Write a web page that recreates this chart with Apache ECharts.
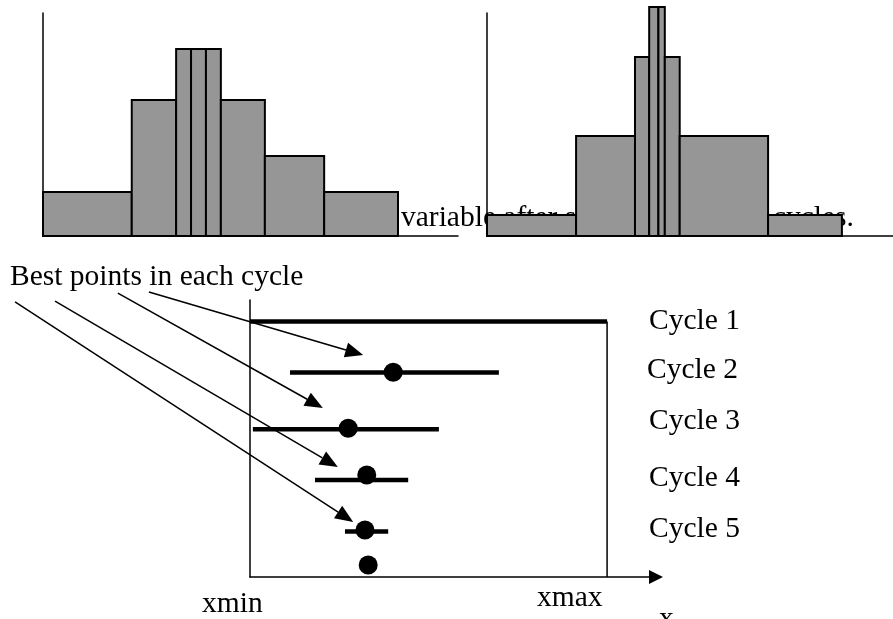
<!DOCTYPE html>
<html>
<head>
<meta charset="utf-8">
<script src="https://cdn.jsdelivr.net/npm/echarts@6/dist/echarts.min.js"></script>
<style>
html, body { margin: 0; padding: 0; background: #fff; }
#chart { width: 893px; height: 619px; }
</style>
</head>
<body>
<div id="chart"></div>
<script>
// histogram before / after the cycles: bin edges on the variable scale, bar heights
const edgesBefore = [0, 2.5, 3.75, 4.17, 4.59, 5.01, 6.25, 7.92, 10];
const countsBefore = [4.4, 13.6, 18.7, 18.7, 18.7, 13.6, 8.0, 4.4];
const edgesAfter = [0, 2.51, 4.17, 4.57, 4.83, 5.01, 5.43, 7.92, 10];
const countsAfter = [2.1, 10.0, 17.9, 22.9, 22.9, 17.9, 10.0, 2.1];

// search range of every cycle (xmin = 0, xmax = 10), level = row on the lower plot
const cycleNames = ['Cycle 1', 'Cycle 2', 'Cycle 3', 'Cycle 4', 'Cycle 5'];
const cycleLevel = [0.78, 2.62, 4.67, 6.5, 8.36];
const rangeLow = [0, 1.12, 0.08, 1.82, 2.66];
const rangeHigh = [10, 6.97, 5.29, 4.43, 3.87];
const bestX = [4.01, 2.75, 3.27, 3.22, 3.31];
const bestLevel = [2.61, 4.63, 6.32, 8.3, 9.57];
const xLimits = [0, 10];
// annotation arrows "Best points in each cycle" -> point
const arrowFrom = [[-2.83, -0.29], [-3.7, -0.25], [-5.46, 0.04], [-6.58, 0.07]];
const arrowTo = [[3.17, 1.99], [2.04, 3.9], [2.46, 6.03], [2.89, 8.01]];

const FONT = '29.5px "Liberation Serif", "Times New Roman", serif';

function toBins(edges, counts) {
  return counts.map((c, i) => [edges[i], edges[i + 1], c]);
}

function renderBin(params, api) {
  const p0 = api.coord([api.value(0), api.value(2)]);
  const p1 = api.coord([api.value(1), 0]);
  return {
    type: 'rect',
    shape: { x: p0[0], y: p0[1], width: p1[0] - p0[0], height: p1[1] - p0[1] },
    style: { fill: '#969696', stroke: '#000', lineWidth: 2 },
  };
}

function renderRange(params, api) {
  const a = api.coord([api.value(0), api.value(2)]);
  const b = api.coord([api.value(1), api.value(2)]);
  return {
    type: 'line',
    shape: { x1: a[0], y1: a[1], x2: b[0], y2: b[1] },
    style: { stroke: '#000', lineWidth: 4.5, lineCap: 'butt' },
  };
}

function renderArrow(params, api) {
  const a = api.coord([api.value(0), api.value(1)]);
  const b = api.coord([api.value(2), api.value(3)]);
  const dx = b[0] - a[0];
  const dy = b[1] - a[1];
  const len = Math.sqrt(dx * dx + dy * dy);
  const ux = dx / len;
  const uy = dy / len;
  const headL = 18;
  const headW = 7.5;
  const bx = b[0] - ux * headL;
  const by = b[1] - uy * headL;
  return {
    type: 'group',
    children: [
      {
        type: 'line',
        shape: { x1: a[0], y1: a[1], x2: bx, y2: by },
        style: { stroke: '#000', lineWidth: 1.5 },
      },
      {
        type: 'polygon',
        shape: { points: [[b[0], b[1]], [bx - uy * headW, by + ux * headW], [bx + uy * headW, by - ux * headW]] },
        style: { fill: '#000' },
      },
    ],
  };
}

const axisLine = { show: true, onZero: false, lineStyle: { color: '#000', width: 1.5 } };
const hidden = { show: false };

function text(str, x, y) {
  return {
    type: 'text',
    style: {
      text: str, x: x, y: y, font: FONT, fill: '#000',
      align: 'left', textAlign: 'left', verticalAlign: 'middle', textVerticalAlign: 'middle',
    },
  };
}

const myChart = echarts.init(document.getElementById('chart'), null, { renderer: 'canvas' });

const option = {
  animation: false,
  backgroundColor: '#fff',
  grid: [
    { left: 43, top: 13, width: 415, height: 223 },
    { left: 487, top: 13, width: 406, height: 223 },
    { left: 250, top: 300, width: 406, height: 277 },
  ],
  xAxis: [
    { gridIndex: 0, type: 'value', min: 0, max: 11.69, axisLine, axisTick: hidden, axisLabel: hidden, splitLine: hidden },
    { gridIndex: 1, type: 'value', min: 0, max: 11.44, axisLine, axisTick: hidden, axisLabel: hidden, splitLine: hidden },
    {
      gridIndex: 2, type: 'value', min: 0, max: 11.37,
      axisLine: { show: true, onZero: false, symbol: ['none', 'triangle'], symbolSize: [14, 14], lineStyle: { color: '#000', width: 1.5 } },
      axisTick: hidden, axisLabel: hidden, splitLine: hidden,
    },
  ],
  yAxis: [
    { gridIndex: 0, type: 'value', min: 0, max: 22.3, axisLine, axisTick: hidden, axisLabel: hidden, splitLine: hidden },
    { gridIndex: 1, type: 'value', min: 0, max: 22.3, axisLine, axisTick: hidden, axisLabel: hidden, splitLine: hidden },
    { gridIndex: 2, type: 'value', min: 0, max: 10, inverse: true, axisLine, axisTick: hidden, axisLabel: hidden, splitLine: hidden },
  ],
  graphic: [
    // caption sits under the right histogram, which hides most of it
    text('variable after some subsequent cycles.', 401, 218),
    text('Best points in each cycle', 10, 277),
    text(cycleNames[0], 649, 321),
    text(cycleNames[1], 647, 370),
    text(cycleNames[2], 649, 421),
    text(cycleNames[3], 649, 478),
    text(cycleNames[4], 649, 529),
    text('xmin', 202, 604),
    text('xmax', 537, 598),
    text('x', 659, 619),
  ],
  series: [
    {
      name: 'before', type: 'custom', xAxisIndex: 0, yAxisIndex: 0, zlevel: 1,
      renderItem: renderBin, data: toBins(edgesBefore, countsBefore),
    },
    {
      name: 'after', type: 'custom', xAxisIndex: 1, yAxisIndex: 1, zlevel: 1, clip: false,
      renderItem: renderBin, data: toBins(edgesAfter, countsAfter),
    },
    {
      name: 'ranges', type: 'custom', xAxisIndex: 2, yAxisIndex: 2, z: 5,
      renderItem: renderRange, data: rangeLow.map((lo, i) => [lo, rangeHigh[i], cycleLevel[i]]),
    },
    {
      name: 'xmax', type: 'line', xAxisIndex: 2, yAxisIndex: 2, z: 4, symbol: 'none',
      lineStyle: { color: '#000', width: 1.5 },
      data: [[xLimits[1], cycleLevel[0]], [xLimits[1], 10]],
    },
    {
      name: 'best', type: 'scatter', xAxisIndex: 2, yAxisIndex: 2, z: 6,
      symbolSize: 19, itemStyle: { color: '#000', opacity: 1 },
      data: bestX.map((x, i) => [x, bestLevel[i]]),
    },
    {
      name: 'arrows', type: 'custom', xAxisIndex: 2, yAxisIndex: 2, z: 7, clip: false,
      renderItem: renderArrow, data: arrowFrom.map((f, i) => [f[0], f[1], arrowTo[i][0], arrowTo[i][1]]),
    },
  ],
};

myChart.setOption(option);
</script>
</body>
</html>
